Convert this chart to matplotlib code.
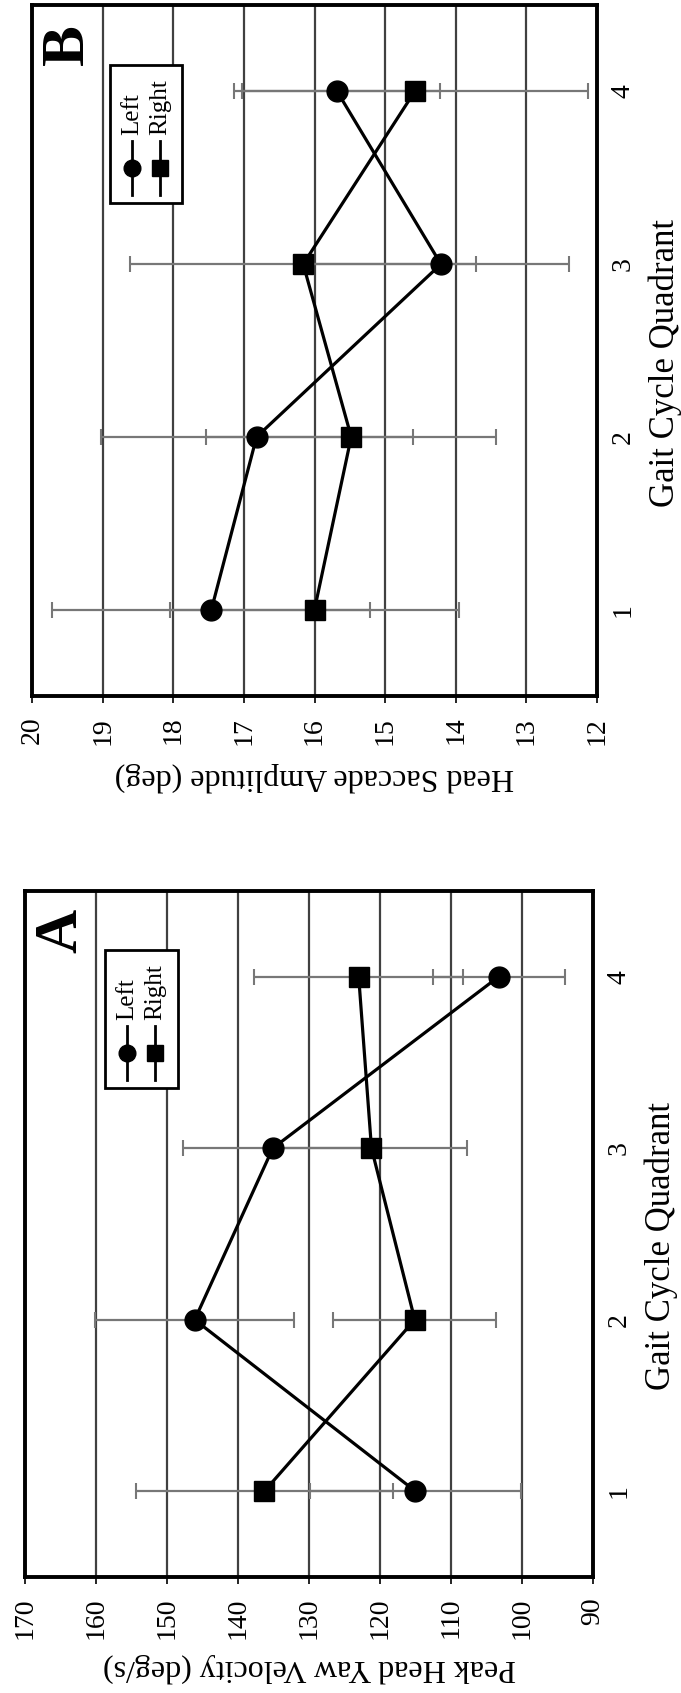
import numpy as np
import matplotlib
matplotlib.use('Agg')
import matplotlib.pyplot as plt
from matplotlib.patches import Rectangle
from matplotlib.lines import Line2D

# datos (pagina girada 90 grados)
quadrants = [1, 2, 3, 4]

yaw_left = [115.0, 146.1, 135.1, 103.3]
yaw_left_err = [14.9, 14.0, 12.7, 9.3]
yaw_right = [136.3, 115.1, 121.2, 123.0]
yaw_right_err = [18.1, 11.5, 13.5, 14.7]

sacc_left = [17.46, 16.82, 14.21, 15.68]
sacc_left_err = [2.25, 2.21, 1.82, 1.46]
sacc_right = [16.0, 15.48, 16.16, 14.58]
sacc_right_err = [2.04, 2.05, 2.45, 2.45]

yaw_ticks = [90, 100, 110, 120, 130, 140, 150, 160, 170]
sacc_ticks = [12, 13, 14, 15, 16, 17, 18, 19, 20]
series_names = ['Left', 'Right']

W, H = 681, 1693
plt.rcParams['font.family'] = ['Liberation Serif', 'DejaVu Serif']

fig = plt.figure(figsize=(W / 100, H / 100), dpi=100)


def px(x, y):
    # pixeles de la imagen -> fraccion de figura
    return x / W, 1 - y / H


def panel(box, left, lerr, right, rerr, ticks, vlabel, voff, letter, leg):
    x0, y0, x1, y1 = box
    ax = fig.add_axes([x0 / W, 1 - y1 / H, (x1 - x0) / W, (y1 - y0) / H])
    ax.set_xlim(max(ticks), min(ticks))
    ax.set_ylim(0.5, 4.5)
    ax.set_xticks(ticks)
    ax.set_xticklabels([str(t) for t in ticks], rotation=90, fontsize=20)
    ax.set_yticks(quadrants)
    ax.set_yticklabels([str(q) for q in quadrants], rotation=90, fontsize=20,
                       va='center')
    ax.yaxis.tick_right()
    ax.tick_params(axis='x', length=5, width=1.2, pad=10, direction='out')
    ax.tick_params(axis='y', length=0, pad=10)
    for t in ticks:
        ax.axvline(t, color='#404040', lw=1.6, zorder=1)
    for s in ax.spines.values():
        s.set_linewidth(2.8)
        s.set_color('black')
    ax.errorbar(left, quadrants, xerr=lerr, fmt='none', ecolor='#777777',
                elinewidth=1.6, capsize=6, capthick=1.5, zorder=2)
    ax.errorbar(right, quadrants, xerr=rerr, fmt='none', ecolor='#777777',
                elinewidth=1.6, capsize=6, capthick=1.5, zorder=2)
    ax.plot(left, quadrants, color='black', lw=2.3, marker='o', ms=15, zorder=4)
    ax.plot(right, quadrants, color='black', lw=2.3, marker='s', ms=15, zorder=4)

    # etiquetas de los ejes
    cx = (x0 + x1) / 2
    fig.text(*px(cx, y1 + voff), vlabel, rotation=180, ha='center',
             va='center', fontsize=23)
    fig.text(*px(x1 + 68, (y0 + y1) / 2 + 12), 'Gait Cycle Quadrant',
             rotation=90, ha='center', va='center', fontsize=25)
    fig.text(*px(x0 + 36, y0 + 40), letter, rotation=90, ha='center',
             va='center', fontsize=44, fontweight='bold')

    # leyenda girada
    lx0, ly0, lx1, ly1 = leg
    fig.patches.append(Rectangle(px(lx0, ly1), (lx1 - lx0) / W, (ly1 - ly0) / H,
                                 transform=fig.transFigure, facecolor='white',
                                 edgecolor='black', lw=2, zorder=5))
    cols = [lx0 + 22, lx0 + 50]
    for xc, m, name in zip(cols, ['o', 's'], series_names):
        xa, ya = px(xc, ly1 - 8)
        xb, yb = px(xc, ly1 - 62)
        fig.lines.append(Line2D([xa, xb], [ya, yb], transform=fig.transFigure,
                                color='black', lw=2, zorder=6))
        xm, ym = px(xc, ly1 - 35)
        fig.lines.append(Line2D([xm], [ym], transform=fig.transFigure,
                                marker=m, ms=12, color='black', zorder=7))
        fig.text(*px(xc, ly1 - 68), name, rotation=90, ha='center',
                 va='bottom', fontsize=18, zorder=7)
    return ax


panel((32, 5, 597, 696), sacc_left, sacc_left_err, sacc_right, sacc_right_err,
      sacc_ticks, 'Head Saccade Amplitude (deg)', 81, 'B', (110, 65, 182, 203))
panel((25, 891, 593, 1577), yaw_left, yaw_left_err, yaw_right, yaw_right_err,
      yaw_ticks, 'Peak Head Yaw Velocity (deg/s)', 91, 'A', (105, 950, 178, 1088))

plt.savefig('out.png', dpi=100)
plt.close()
